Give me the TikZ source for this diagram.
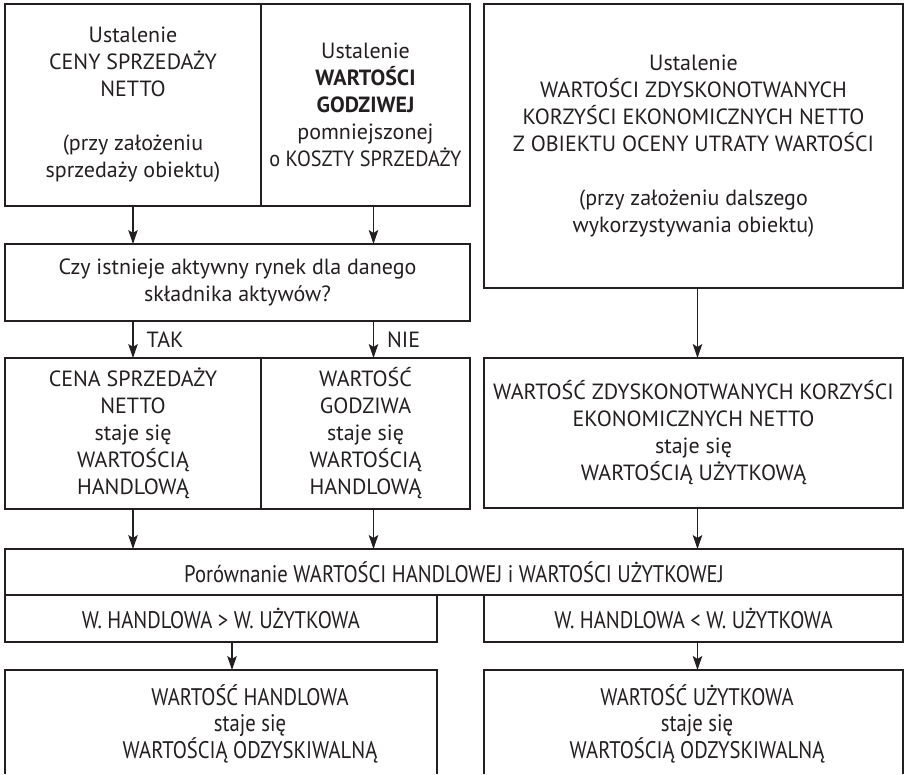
\documentclass[tikz,border=0pt]{standalone}
\usepackage{fontspec}
\setmainfont{PT Sans}
\newfontfamily\condfont[FakeStretch=0.86]{PT Sans}
\usetikzlibrary{arrows.meta}
\definecolor{ink}{HTML}{231F20}
\begin{document}
\begin{tikzpicture}[x=1pt,y=-1pt,
  box/.style={draw=ink, line width=1.2pt, inner sep=0pt, outer sep=0pt, anchor=north west, align=center, text=ink, font=\fontsize{22}{27}\selectfont},
  lbl/.style={inner sep=0pt, align=center, text=ink, font=\fontsize{22}{27}\selectfont},
  cond/.style={font=\condfont\fontsize{24}{25.5}\selectfont},
  boxline/.style={draw=ink, line width=1.2pt},
  arr/.style={draw=ink, line width=1.2pt, -{Stealth[length=14pt,width=9.5pt,inset=3pt]}},
  yn/.style={inner sep=0pt, anchor=west, text=ink, font=\fontsize{22}{27}\selectfont}]
\useasboundingbox (0,0) rectangle (905,774);
\node[box, minimum width=256pt, minimum height=202pt] (A) at (5,4) {Ustalenie\\CENY SPRZEDAŻY\\NETTO\\[27pt](przy założeniu\\sprzedaży obiektu)};
\node[box, minimum width=209pt, minimum height=202pt] (B) at (261,4) {Ustalenie\\\textbf{WARTOŚCI}\\\textbf{GODZIWEJ}\\pomniejszonej\\\scalebox{0.92}[1]{o KOSZTY SPRZEDAŻY}};
\node[box, minimum width=419pt, minimum height=284pt] (C) at (484,4) {Ustalenie\\WARTOŚCI ZDYSKONOTWANYCH\\KORZYŚCI EKONOMICZNYCH NETTO\\Z OBIEKTU OCENY UTRATY WARTOŚCI\\[27pt](przy założeniu dalszego\\wykorzystywania obiektu)};
\node[box, minimum width=465pt, minimum height=77pt] (Q) at (5,244) {Czy istnieje aktywny rynek dla danego\\składnika aktywów?};
\node[box, minimum width=256pt, minimum height=151pt] (D) at (5,358) {CENA SPRZEDAŻY\\NETTO\\staje się\\WARTOŚCIĄ\\HANDLOWĄ};
\node[box, minimum width=209pt, minimum height=151pt] (E) at (261,358) {WARTOŚĆ\\GODZIWA\\staje się\\WARTOŚCIĄ\\HANDLOWĄ};
\node[box, minimum width=419pt, minimum height=150pt] (F) at (484,358) {WARTOŚĆ ZDYSKONOTWANYCH KORZYŚCI\\EKONOMICZNYCH NETTO\\staje się\\WARTOŚCIĄ UŻYTKOWĄ};
\node[box, cond, minimum width=898pt, minimum height=46pt] (P) at (5,549) {Porównanie WARTOŚCI HANDLOWEJ i WARTOŚCI UŻYTKOWEJ};
\node[box, cond, minimum width=432pt, minimum height=47pt] (G) at (5,595) {W. HANDLOWA > W. UŻYTKOWA};
\node[box, cond, minimum width=419pt, minimum height=47pt] (H) at (484,595) {W. HANDLOWA < W. UŻYTKOWA};
\draw[boxline] (5,774) |- (437,670) -- (437,774);
\draw[boxline] (484,774) |- (903,670) -- (903,774);
\coordinate (I) at (232,670);
\coordinate (J) at (697.5,670);
\coordinate (bx) at ([xshift=8pt]B.south);
\node[lbl, cond] (It) at (250,724) {WARTOŚĆ HANDLOWA\\staje się\\WARTOŚCIĄ ODZYSKIWALNĄ};
\node[lbl, cond] (Jt) at (697,724) {WARTOŚĆ UŻYTKOWA\\staje się\\WARTOŚCIĄ ODZYSKIWALNĄ};
\draw[arr] (A.south) -- (A.south |- Q.north);
\draw[arr] (bx) -- (bx |- Q.north);
\draw[arr] (Q.south -| A.south) -- (D.north -| A.south) node[yn, midway, xshift=13pt] {TAK};
\draw[arr] (Q.south -| bx) -- (D.north -| bx) node[yn, midway, xshift=13pt] {NIE};
\draw[arr] ([xshift=4pt]C.south) -- ([xshift=4pt]F.north);
\draw[arr] (D.south) -- (D.south |- P.north);
\draw[arr] ([xshift=8pt]E.south) -- ([xshift=8pt]E.south |- P.north);
\draw[arr] ([xshift=4pt]F.south) -- ([xshift=4pt]F.south |- P.north);
\draw[arr] ([xshift=11pt]G.south) -- (I);
\draw[arr] ([xshift=4pt]H.south) -- (J);
\end{tikzpicture}
\end{document}
